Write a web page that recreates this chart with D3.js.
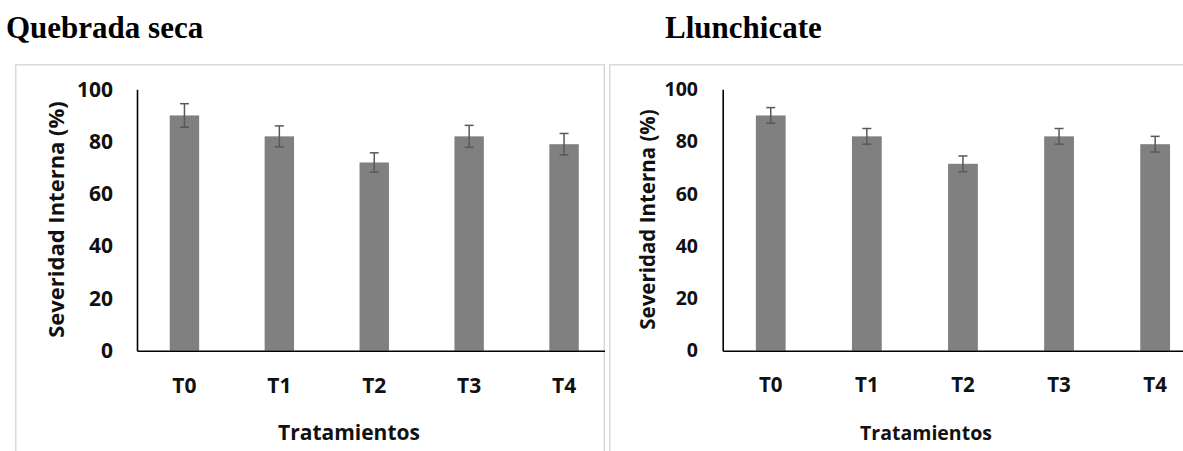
<!DOCTYPE html>
<html>
<head>
<meta charset="utf-8">
<script src="https://cdn.jsdelivr.net/npm/d3@7"></script>
<style>
  html, body { margin: 0; padding: 0; background: #fff; overflow: hidden; }
  svg { display: block; }
</style>
</head>
<body>
<svg id="chart" width="1183" height="451"></svg>
<script>
// Treatments and internal severity (%) with error bars, per site
const categories = ["T0", "T1", "T2", "T3", "T4"];
const quebradaValues = [90, 82, 72, 82, 79];
const quebradaErrors = [4.5, 4, 3.7, 4.2, 4.1];
const llunchicateValues = [90, 82, 71.5, 82, 79];
const llunchicateErrors = [3, 3, 3, 3, 3];
const yTicks = [0, 20, 40, 60, 80, 100];
const panelTitles = ["Quebrada seca", "Llunchicate"];
const yAxisTitle = "Severidad Interna (%)";
const xAxisTitle = "Tratamientos";

const svg = d3.select("#chart");
svg.append("rect").attr("width", 1183).attr("height", 451).attr("fill", "#fff");

const TICK_FONT = "'Open Sans', sans-serif";
const TITLE_FONT = "'Liberation Serif', 'Times New Roman', serif";

// layout of the two side-by-side panels
const panels = [
  {
    title: panelTitles[0], values: quebradaValues, errors: quebradaErrors,
    titleX: 6, frameX: 15, frameW: 590,
    axisX: 137, step: 94.9, tickPad: 24,
    yTitleX: 55, xTitleX: 349, tickSize: 21, xTickSize: 21, labelSize: 21
  },
  {
    title: panelTitles[1], values: llunchicateValues, errors: llunchicateErrors,
    titleX: 665, frameX: 609, frameW: 620,
    axisX: 722.7, step: 96.1, tickPad: 24.7,
    yTitleX: 647, xTitleX: 926, tickSize: 19.5, xTickSize: 20.5, labelSize: 19.5
  }
];

const yTop = 89.3, yBottom = 350.7, frameY = 64;

const y = d3.scaleLinear().domain([0, 100]).range([yBottom, yTop]);

panels.forEach((p, i) => {
  // panel heading above the frame
  svg.append("text")
    .attr("x", p.titleX).attr("y", 37.5)
    .attr("font-family", TITLE_FONT)
    .attr("font-weight", "bold")
    .attr("font-size", 31)
    .attr("fill", "#000")
    .text(p.title);

  const clipId = "clip" + i;
  svg.append("clipPath").attr("id", clipId)
    .append("rect")
    .attr("x", p.frameX).attr("y", frameY)
    .attr("width", p.frameW).attr("height", 451 - frameY + 5);

  const g = svg.append("g").attr("clip-path", `url(#${clipId})`);

  // chart frame
  g.append("rect")
    .attr("x", p.frameX + 0.75).attr("y", frameY + 0.75)
    .attr("width", p.frameW - 1.5).attr("height", 451 - frameY + 10)
    .attr("fill", "#fff")
    .attr("stroke", "#d9d9d9")
    .attr("stroke-width", 1.5);

  const x = d3.scaleBand()
    .domain(categories)
    .range([p.axisX, p.axisX + p.step * categories.length])
    .paddingInner(0.69)
    .paddingOuter(0.345);

  // bars
  g.selectAll("rect.bar")
    .data(categories)
    .join("rect")
    .attr("class", "bar")
    .attr("x", d => x(d))
    .attr("width", x.bandwidth())
    .attr("y", (d, k) => y(p.values[k]))
    .attr("height", (d, k) => y(0) - y(p.values[k]))
    .attr("fill", "#808080");

  // error bars
  const eb = g.selectAll("g.err")
    .data(categories)
    .join("g")
    .attr("class", "err")
    .attr("stroke", "#595959")
    .attr("stroke-width", 1.5);
  const cx = d => x(d) + x.bandwidth() / 2;
  eb.append("line")
    .attr("x1", cx).attr("x2", cx)
    .attr("y1", (d, k) => y(p.values[k] + p.errors[k]))
    .attr("y2", (d, k) => y(p.values[k] - p.errors[k]));
  [1, -1].forEach(sgn => {
    eb.append("line")
      .attr("x1", d => cx(d) - 4.5).attr("x2", d => cx(d) + 4.5)
      .attr("y1", (d, k) => y(p.values[k] + sgn * p.errors[k]))
      .attr("y2", (d, k) => y(p.values[k] + sgn * p.errors[k]));
  });

  // y axis
  const yAxis = g.append("g")
    .attr("transform", `translate(${p.axisX},0)`)
    .call(d3.axisLeft(y).tickValues(yTicks).tickSize(0).tickPadding(p.tickPad));
  yAxis.select(".domain").attr("stroke", "#000").attr("stroke-width", 1.6);
  yAxis.selectAll("text")
    .attr("font-family", TICK_FONT)
    .attr("font-weight", "bold")
    .attr("font-size", p.tickSize)
    .attr("fill", "#111");

  // x axis
  const xAxis = g.append("g")
    .attr("transform", `translate(0,${yBottom})`)
    .call(d3.axisBottom(x).tickSize(0).tickSizeOuter(0).tickPadding(27));
  xAxis.select(".domain").attr("stroke", "#000").attr("stroke-width", 1.6);
  xAxis.selectAll("text")
    .attr("font-family", TICK_FONT)
    .attr("font-weight", "bold")
    .attr("font-size", p.xTickSize)
    .attr("fill", "#111");

  // axis titles
  g.append("text")
    .attr("transform", `translate(${p.yTitleX},219.5) rotate(-90)`)
    .attr("text-anchor", "middle")
    .attr("dominant-baseline", "central")
    .attr("font-family", TICK_FONT)
    .attr("font-weight", "bold")
    .attr("font-size", p.labelSize + 1)
    .attr("fill", "#111")
    .text(yAxisTitle);

  g.append("text")
    .attr("x", p.xTitleX).attr("y", 440)
    .attr("text-anchor", "middle")
    .attr("font-family", TICK_FONT)
    .attr("font-weight", "bold")
    .attr("font-size", p.labelSize)
    .attr("fill", "#111")
    .text(xAxisTitle);
});
</script>
</body>
</html>
